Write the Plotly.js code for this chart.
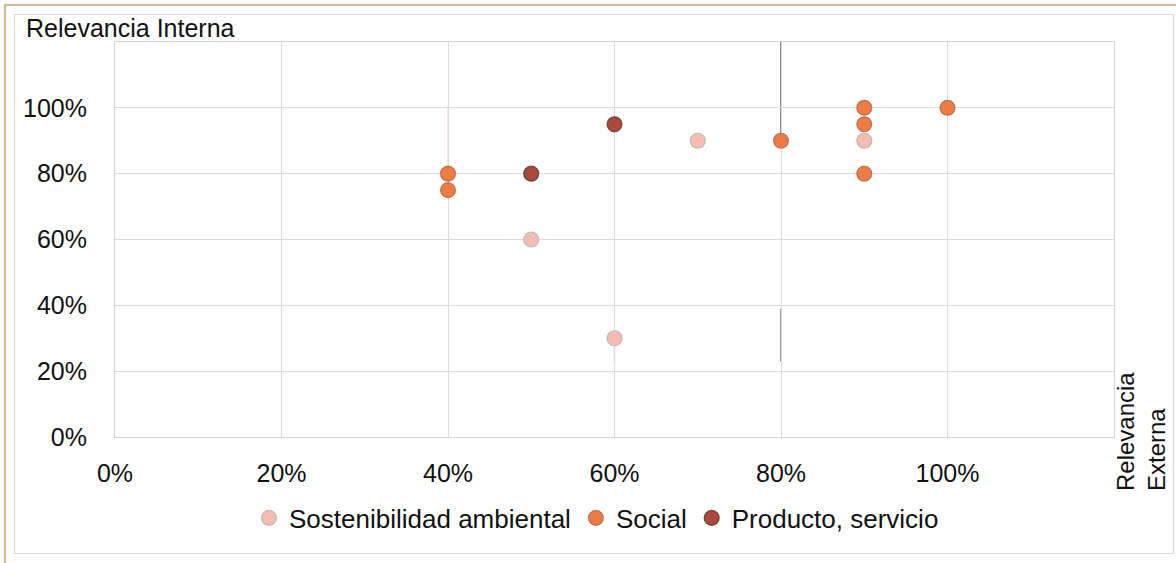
<!DOCTYPE html>
<html>
<head>
<meta charset="utf-8">
<script src="https://cdn.plot.ly/plotly-3.0.1.min.js"></script>
<style>
  html, body { margin: 0; padding: 0; background: #ffffff; }
  #wrap { position: relative; width: 1176px; height: 563px; overflow: hidden; }
  #chart { position: absolute; left: 0; top: 0; width: 1176px; height: 563px; }
  #tan { position: absolute; left: 4px; top: 4px; width: 1180px; height: 600px;
         border-left: 2px solid #d8b98e; border-top: 2px solid #cdb89a; pointer-events: none; }
  #frame { position: absolute; left: 14px; top: 14px; width: 1158px; height: 538px;
           border: 1px solid #d6d6d6; pointer-events: none; }
</style>
</head>
<body>
<div id="wrap">
  <div id="chart"></div>
  <div id="tan"></div>
  <div id="frame"></div>
</div>
<script>
// ---- data ----
const seriesNames = ["Sostenibilidad ambiental", "Social", "Producto, servicio"];

const sostX = [0.5, 0.6, 0.7, 0.9];
const sostY = [0.6, 0.3, 0.9, 0.9];

const socialX = [0.4, 0.4, 0.8, 0.9, 0.9, 0.9, 1.0];
const socialY = [0.8, 0.75, 0.9, 1.0, 0.95, 0.8, 1.0];

const prodX = [0.5, 0.6];
const prodY = [0.8, 0.95];

const tickVals = [0, 0.2, 0.4, 0.6, 0.8, 1.0];
const tickText = ["0%", "20%", "40%", "60%", "80%", "100%"];

const colors = ["#f5bdb2", "#ee7c45", "#a94a3c"];

function mk(name, x, y, color, edge) {
  return {
    type: "scatter", mode: "markers", name: name, x: x, y: y,
    marker: { size: 15, color: color, line: { width: 1.2, color: edge } },
    hoverinfo: "x+y"
  };
}

const traces = [
  mk(seriesNames[0], sostX, sostY, colors[0], "rgba(170,170,170,0.7)"),
  mk(seriesNames[1], socialX, socialY, colors[1], "rgba(150,80,50,0.6)"),
  mk(seriesNames[2], prodX, prodY, colors[2], "rgba(70,40,30,0.7)")
];

const fam = "Liberation Sans, Arial, sans-serif";
const font = { family: fam, size: 25, color: "#111111" };

const layout = {
  width: 1176, height: 563,
  margin: { l: 115, r: 62, t: 42, b: 126, pad: 0 },
  paper_bgcolor: "#ffffff", plot_bgcolor: "#ffffff",
  font: font,
  showlegend: true,
  legend: {
    orientation: "h", x: 0.482, xanchor: "center", y: -0.205, yanchor: "middle",
    font: { family: fam, size: 26, color: "#111111" },
    itemwidth: 30, tracegroupgap: 0
  },
  xaxis: {
    range: [0, 1.2], tickvals: tickVals, ticktext: tickText,
    showgrid: true, gridcolor: "#dcdcdc", gridwidth: 1,
    zeroline: false, showline: true, linecolor: "#d4d4d4", linewidth: 1, mirror: true,
    ticks: "", ticklabelstandoff: 14, fixedrange: true,
    tickfont: font
  },
  yaxis: {
    range: [0, 1.2], tickvals: tickVals, ticktext: tickText,
    showgrid: true, gridcolor: "#dcdcdc", gridwidth: 1,
    zeroline: false, showline: true, linecolor: "#d4d4d4", linewidth: 1, mirror: true,
    ticks: "", ticklabelstandoff: 22, fixedrange: true,
    tickfont: font
  },
  shapes: [
    { type: "line", xref: "x", yref: "y", x0: 0.8, x1: 0.8, y0: 1.2, y1: 0.92,
      line: { color: "rgba(60,60,60,0.8)", width: 1.5 }, layer: "below" },
    { type: "line", xref: "x", yref: "y", x0: 0.8, x1: 0.8, y0: 0.39, y1: 0.23,
      line: { color: "rgba(60,60,60,0.7)", width: 1.5 }, layer: "below" },
    { type: "line", xref: "x", yref: "y", x0: 0.4, x1: 0.4, y0: 1.0, y1: 0.82,
      line: { color: "rgba(230,170,160,0.6)", width: 1 }, layer: "below" },
    { type: "line", xref: "x", yref: "y", x0: 0.6, x1: 0.6, y0: 0.28, y1: 0.22,
      line: { color: "rgba(60,60,60,0.6)", width: 1.2 }, layer: "below" }
  ],
  annotations: [
    {
      text: "Relevancia Interna", xref: "paper", yref: "paper",
      x: -0.091, y: 1.035, xanchor: "left", yanchor: "middle",
      showarrow: false, font: { family: fam, size: 25, color: "#111111" }
    },
    {
      text: "Relevancia<br>Externa", xref: "paper", yref: "paper",
      x: 1.027, y: 0.015, xanchor: "center", yanchor: "middle",
      textangle: -90, align: "left", showarrow: false,
      font: { family: fam, size: 24, color: "#111111" }
    }
  ]
};

Plotly.newPlot("chart", traces, layout, { displayModeBar: false, staticPlot: true });
</script>
</body>
</html>
